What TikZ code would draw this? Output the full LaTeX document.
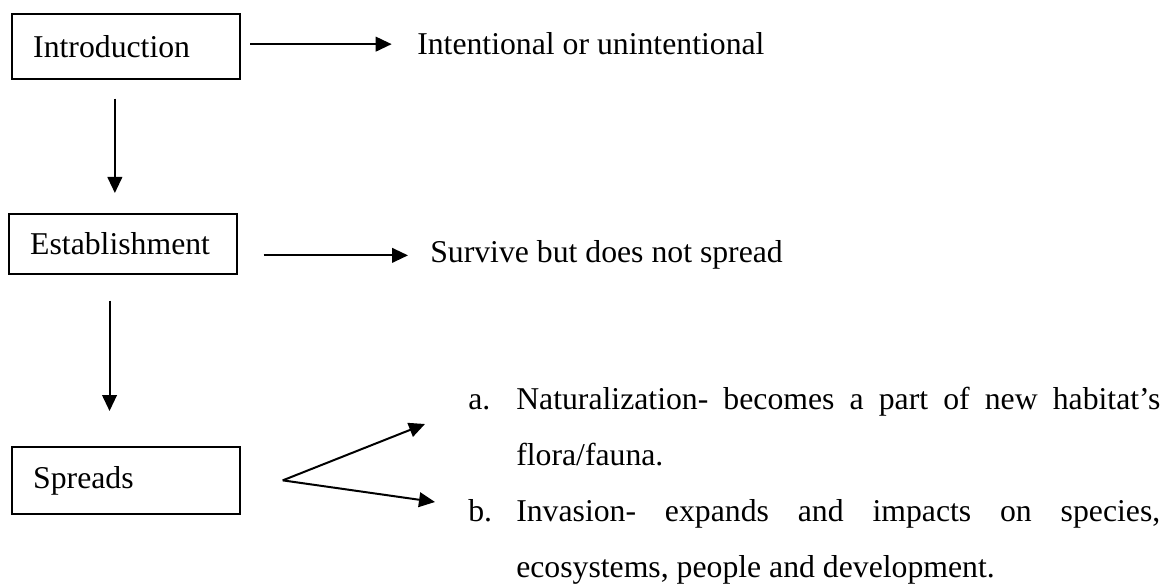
\documentclass[tikz,border=0pt]{standalone}
\usepackage{fontspec}
\setmainfont{Liberation Serif}
\usetikzlibrary{arrows.meta}

\begin{document}
\begin{tikzpicture}[x=0.75pt,y=0.75pt,yscale=-1,xscale=1,
  stage/.style={draw, line width=1.3pt, anchor=north west, text width=139pt, inner xsep=16pt, align=left, font=\fontsize{23.8}{28}\selectfont},
  note/.style={anchor=base west, inner sep=0pt, font=\fontsize{23.8}{28}\selectfont},
  flow/.style={line width=1.5pt, -{Triangle[length=12pt,width=11pt]}}]
\useasboundingbox (0,0) rectangle (1173,584);

% Stage boxes
\node[stage, minimum height=48.75pt] (intro) at (11,13) {Introduction};
\node[stage, minimum height=45pt] (estab) at (8,213) {Establishment};
\node[stage, minimum height=50.25pt] (spreads) at (11,446) {Spreads};

% Side notes
\node[note] (introNote) at (417,55) {Intentional or unintentional};
\node[note] (estabNote) at (430,263) {Survive but does not spread};

% Outcomes of spreading
\node[note] (labelA) at (468,409) {a.};
\node[note] (itemA1) at (516,409) {\makebox[483pt][s]{Naturalization- becomes a part of new habitat’s}};
\node[note] (itemA2) at (516,465) {flora/fauna.};
\node[note] (labelB) at (468,521) {b.};
\node[note] (itemB1) at (516,521) {\makebox[483pt][s]{Invasion- expands and impacts on species,}};
\node[note] (itemB2) at (516,577) {ecosystems, people and development.};

% Arrows
\draw[flow] ([xshift=7pt]intro.east |- introNote.west) -- ([xshift=-19pt]introNote.west);
\draw[flow] ([xshift=19.5pt]estab.east |- estabNote.west) -- ([xshift=-16.5pt]estabNote.west);
\draw[flow] ([xshift=-8.25pt,yshift=14.25pt]intro.south) -- ([xshift=-8.25pt,yshift=-15pt]intro.south |- estab.north);
\draw[flow] ([xshift=-10pt,yshift=19.5pt]estab.south) -- ([xshift=-10pt,yshift=-26.25pt]estab.south |- spreads.north);

% Fork to the two outcomes
\coordinate (fork) at ([xshift=31.5pt]spreads.east);
\coordinate (tipA) at ([xshift=-32.25pt,yshift=11.25pt]labelA.base west);
\coordinate (tipB) at ([xshift=-24.75pt,yshift=-14.25pt]labelB.base west);
\draw[flow] (fork) -- (tipA);
\draw[flow] (fork) -- (tipB);
\end{tikzpicture}
\end{document}
